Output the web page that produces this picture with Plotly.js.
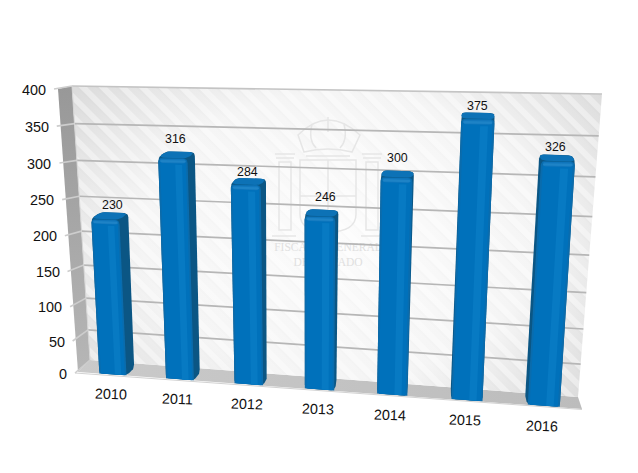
<!DOCTYPE html>
<html><head><meta charset="utf-8">
<script src="https://cdn.plot.ly/plotly-3.0.1.min.js"></script>
<style>html,body{margin:0;padding:0;background:#fff}#c{width:638px;height:473px}</style>
</head><body><div id="c"></div>
<script>
var categories=["2010","2011","2012","2013","2014","2015","2016"];
var values=[230,316,284,246,300,375,326];
var tickValues=[0,50,100,150,200,250,300,350,400];
var labelNudgeX=[-2,-5,-4,2,-1,0,0];
var labelNudgeY=[1,-4,3,-4,-4,2,1];
var VMAX=400, EXP=1.03, N=categories.length;

function homography(q){ // q: (0,0),(1,0),(1,1),(0,1)
  var x0=q[0][0],y0=q[0][1],x1=q[1][0],y1=q[1][1],x2=q[2][0],y2=q[2][1],x3=q[3][0],y3=q[3][1];
  var dx1=x1-x2,dx2=x3-x2,sx=x0-x1+x2-x3,dy1=y1-y2,dy2=y3-y2,sy=y0-y1+y2-y3;
  var den=dx1*dy2-dx2*dy1,g=(sx*dy2-dx2*sy)/den,h=(dx1*sy-sx*dy1)/den;
  var a=x1-x0+g*x1,b=x3-x0+h*x3,c=x0,d=y1-y0+g*y1,e=y3-y0+h*y3,f=y0;
  return function(u,v){var t=Math.pow(v/VMAX,EXP),w=g*u+h*t+1;return [(a*u+b*t+c)/w,(d*u+e*t+f)/w];};
}
var wall =homography([[90,360],[578,397],[602,94],[72,86]]);
var front=homography([[80,372],[583,408.5],[604,100],[64,91]]);
var back =homography([[89,365],[579,402],[601,94],[75,85]]);
function outer(v){var t=Math.pow(v/VMAX,1.05);return [75+(54-75)*t,373+(89-373)*t];}

function poly(pts,color,name){
  return {type:"scatter",mode:"lines",x:pts.map(function(p){return p[0]}),y:pts.map(function(p){return p[1]}),
    fill:"toself",fillcolor:color,line:{width:0,color:color},hoverinfo:"skip",showlegend:false,name:name||""};
}
function seg(a,b,color,width){
  return {type:"scatter",mode:"lines",x:[a[0],b[0]],y:[a[1],b[1]],line:{color:color,width:width},hoverinfo:"skip",showlegend:false};
}
function round(pts,r,flags){
  var out=[],n=pts.length;
  for(var i=0;i<n;i++){
    var p=pts[i];
    if(flags&&!flags[i]){out.push(p);continue;}
    var a=pts[(i+n-1)%n],b=pts[(i+1)%n];
    var la=Math.hypot(a[0]-p[0],a[1]-p[1]),lb=Math.hypot(b[0]-p[0],b[1]-p[1]);
    var ra=Math.min(r,la/2),rb=Math.min(r,lb/2);
    var s=[p[0]+(a[0]-p[0])*ra/la,p[1]+(a[1]-p[1])*ra/la],e=[p[0]+(b[0]-p[0])*rb/lb,p[1]+(b[1]-p[1])*rb/lb];
    for(var k=0;k<=6;k++){var t=k/6,m=1-t;
      out.push([m*m*s[0]+2*m*t*p[0]+t*t*e[0],m*m*s[1]+2*m*t*p[1]+t*t*e[1]]);}
  }
  return out;
}
function hull(pts){
  var P=pts.slice().sort(function(a,b){return a[0]-b[0]||a[1]-b[1]});
  function cross(o,a,b){return (a[0]-o[0])*(b[1]-o[1])-(a[1]-o[1])*(b[0]-o[0]);}
  var lo=[],up=[];
  P.forEach(function(p){while(lo.length>1&&cross(lo[lo.length-2],lo[lo.length-1],p)<=0)lo.pop();lo.push(p);});
  P.slice().reverse().forEach(function(p){while(up.length>1&&cross(up[up.length-2],up[up.length-1],p)<=0)up.pop();up.push(p);});
  lo.pop();up.pop();return lo.concat(up);
}

var traces=[];
traces.push({type:"scatter",mode:"text",x:[328,328],y:[248,263],text:["FISCALÍA GENERAL","DEL ESTADO"],
  textfont:{family:"Liberation Serif",size:11.5,color:"#e0e0e0"},hoverinfo:"skip",showlegend:false});
tickValues.forEach(function(v){
  var a=wall(0,v),b=wall(1,v);
  if(v>0) traces.push(seg(a,b,v===VMAX?"#c4c4c4":"#b6b6b6",1.7));
  traces.push(seg(outer(v),a,"#cdcdcd",1.6));
});
traces.push(seg(wall(0,0),wall(0,VMAX),"#d4d4d4",1));
traces.push(seg(outer(0),[582,409.5],"#d2d2d2",1));

var HW=0.205/N;
values.forEach(function(val,i){
  var c=(i+0.5)/N,uL=c-HW,uR=c+HW,name=categories[i];
  var fBL=front(uL,0),fBR=front(uR,0),fTR=front(uR,val),fTL=front(uL,val);
  var bBL=back(uL,0),bBR=back(uR,0),bTR=back(uR,val),bTL=back(uL,val);
  traces.push(poly(round(hull([fBL,fBR,fTR,fTL,bBL,bBR,bTR,bTL]),4),"#0b5684",name));
  traces.push(poly(round(hull([fTL,fTR,bTR,bTL]),5),"#0d72b6",name));
  traces.push(poly(round([fBL,fBR,fTR,fTL],5,[0,0,1,1]),"#0a6cad",name));
  var inL=uL+HW*0.12,inR=uR-HW*0.12;
  traces.push(poly(round([front(inL,0),front(inR,0),front(inR,val-2),front(inL,val-2)],4,[0,0,1,1]),"#0071bb",name));
  var sL=c+HW*0.15,sR=c+HW*0.62;
  traces.push(poly([front(sL,0),front(sR,0),front(sR,val-9),front(sL,val-9)],"#077ac3",name));
  traces.push(poly(round([front(inL,val-7),front(inR,val-7),front(inR,val-1),front(inL,val-1)],3),"#1277bd",name));
  traces.push(poly(round([front(inL,val-6),front(inR,val-6),front(inR,val-3),front(inL,val-3)],2),"#1e83c6",name));
});

var annotations=[];
function label(x,y,text,size,angle,xanchor){
  annotations.push({xref:"x",yref:"y",x:x,y:y,text:text,showarrow:false,textangle:angle||0,xanchor:xanchor||"center",yanchor:"middle",
    font:{family:"Liberation Sans, Arial, sans-serif",size:size,color:"#111"},borderpad:0,borderwidth:0});
}
tickValues.forEach(function(v){
  var p=outer(v);
  label(p[0]-8,p[1]+0.5,String(v),14.4,0,"right");
});
categories.forEach(function(cat,i){
  var p=front((i+0.5)/N,0);
  label(p[0]-2,p[1]+20,cat,14.4,2,"center");
});
values.forEach(function(val,i){
  var p=back((i+0.5)/N,val);
  label(p[0]+labelNudgeX[i],p[1]-9+labelNudgeY[i],String(val),12.4,0,"center");
});

var qs=[wall(0,VMAX),wall(1,VMAX),wall(1,0),wall(0,0)].map(function(p){return p.join(",")}).join(" ");
var svg='<svg xmlns="http://www.w3.org/2000/svg" width="638" height="473" viewBox="0 0 638 473">'+
 '<defs><radialGradient id="g" gradientUnits="userSpaceOnUse" cx="340" cy="235" r="330" gradientTransform="translate(340 235) scale(1 .72) translate(-340 -235)">'+
 '<stop offset="0" stop-color="#fcfcfc"/><stop offset=".6" stop-color="#f5f5f5"/><stop offset="1" stop-color="#dcdcdc"/></radialGradient>'+
 '<linearGradient id="s" x1="0" y1="0" x2="0" y2="1"><stop offset="0" stop-color="#989898"/><stop offset="1" stop-color="#b6b6b6"/></linearGradient>'+
 '<linearGradient id="f" x1="0" y1="0" x2="1" y2="0"><stop offset="0" stop-color="#cacaca"/><stop offset="1" stop-color="#bcbcbc"/></linearGradient>'+
 '<pattern id="h" patternUnits="userSpaceOnUse" width="14" height="14" patternTransform="rotate(45)"><rect width="14" height="6" fill="#fff" fill-opacity=".38"/><rect y="6" width="14" height="1.5" fill="#000" fill-opacity=".012"/></pattern></defs>'+
 '<polygon points="58,89 72,86 90,360 78,372" fill="url(#s)"/>'+
 '<polygon points="90,360 578,397 582,409 78,372" fill="url(#f)"/>'+
 '<polygon points="'+qs+'" fill="url(#g)"/><polygon points="'+qs+'" fill="url(#h)"/>'+
 '<g fill="none" stroke="#e6e6e6" stroke-width="1.5">'+
 '<path d="M298 135 Q328 105 360 135 L352 152 Q328 146 304 152 Z"/><path d="M328 117 V132 M312 124 Q308 140 316 148 M344 124 Q348 140 340 148"/><path d="M306 156 H350"/>'+
 '<path d="M300 160 H356 V214 Q356 232 328 232 Q300 232 300 214 Z"/><path d="M328 160 V232 M300 196 H356"/>'+
 '<rect x="279" y="162" width="12" height="68"/><rect x="366" y="162" width="12" height="68"/>'+
 '<path d="M275 154 h20 M362 154 h20 M272 236 h24 M361 236 h24 M276 158 h18 M363 158 h18"/></g></svg>';
var layout={width:638,height:473,margin:{l:0,r:0,t:0,b:0},paper_bgcolor:"#fff",plot_bgcolor:"#fff",showlegend:false,
  xaxis:{range:[0,638],visible:false,fixedrange:true},
  yaxis:{range:[473,0],visible:false,fixedrange:true},
  annotations:annotations,
  images:[{source:"data:image/svg+xml;utf8,"+encodeURIComponent(svg),xref:"paper",yref:"paper",x:0,y:1,sizex:1,sizey:1,sizing:"stretch",layer:"below",xanchor:"left",yanchor:"top"}]};
Plotly.newPlot("c",traces,layout,{staticPlot:true,displayModeBar:false});
</script></body></html>
